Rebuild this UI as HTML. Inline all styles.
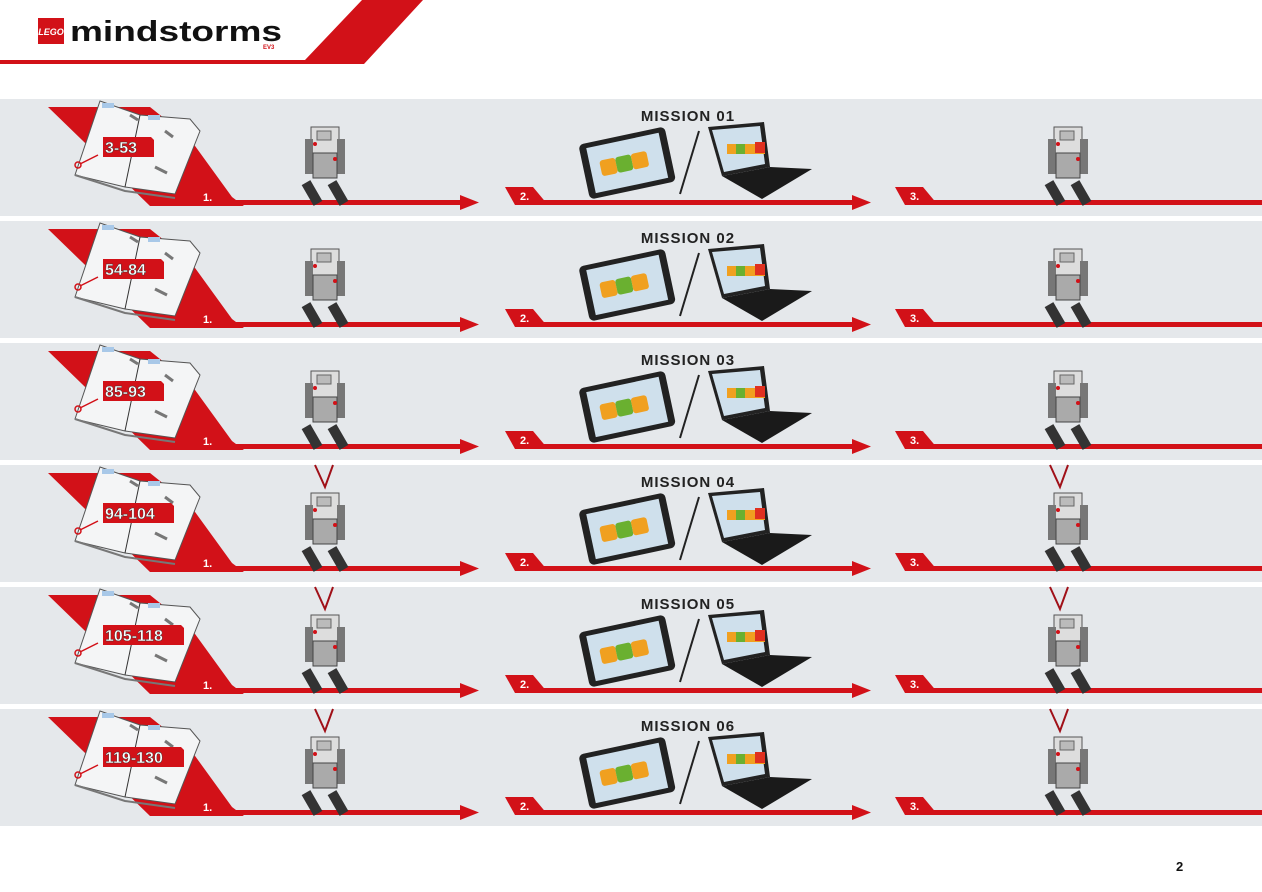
<!DOCTYPE html>
<html><head><meta charset="utf-8"><style>
html,body{margin:0;padding:0;background:#fff;width:1262px;height:892px;overflow:hidden}
svg{display:block}
text{font-family:"Liberation Sans",sans-serif}
</style></head><body>
<svg id="s" width="1262" height="892" viewBox="0 0 1262 892" xmlns="http://www.w3.org/2000/svg">
<polygon points="0,60 305,60 362,0 423,0 364,64 0,64" fill="#d21118"/>
<rect x="38" y="18" width="26" height="26" fill="#d21118"/>
<text x="51" y="35" font-size="9" font-weight="bold" font-style="italic" fill="#fff" text-anchor="middle">LEGO</text>
<text x="70" y="41" font-size="29" font-weight="bold" fill="#111" textLength="212" lengthAdjust="spacingAndGlyphs">mindstorms</text>
<text x="263" y="49" font-size="6" font-weight="bold" fill="#d21118">EV3</text>
<text x="1176" y="871" font-size="13" font-weight="bold" fill="#111">2</text>
</svg>
<script>
const s=document.getElementById('s');let h='';
const pages=['3-53','54-84','85-93','94-104','105-118','119-130'];
for(let i=0;i<6;i++){const y=99+i*122;
h+=`<rect x="0" y="${y}" width="1262" height="117" fill="#e5e8eb"/>`;
h+=`<polygon points="48,${y+8} 150,${y+8} 190,${y+40} 232,${y+98} 244,${y+107} 150,${y+107}" fill="#d21118"/>`;
h+=`<rect x="150" y="${y+101}" width="312" height="5" fill="#d21118"/><polygon points="460,${y+96} 479,${y+103.5} 460,${y+111}" fill="#d21118"/>`;
h+=`<polygon points="505,${y+88} 533,${y+88} 548,${y+106} 515,${y+106}" fill="#d21118"/><rect x="540" y="${y+101}" width="312" height="5" fill="#d21118"/><polygon points="852,${y+96} 871,${y+103.5} 852,${y+111}" fill="#d21118"/>`;
h+=`<polygon points="895,${y+88} 923,${y+88} 938,${y+106} 905,${y+106}" fill="#d21118"/><rect x="930" y="${y+101}" width="332" height="5" fill="#d21118"/>`;
h+=`<text x="203" y="${y+102}" font-size="11" font-weight="bold" fill="#fff">1.</text><text x="520" y="${y+101}" font-size="11" font-weight="bold" fill="#fff">2.</text><text x="910" y="${y+101}" font-size="11" font-weight="bold" fill="#fff">3.</text>`;
// book
h+=`<polygon points="100,${y+2} 140,${y+16} 190,${y+20} 200,${y+32} 175,${y+95} 125,${y+88} 75,${y+76}" fill="#f4f5f6" stroke="#555" stroke-width="1"/><line x1="140" y1="${y+16}" x2="125" y2="${y+88}" stroke="#333"/>`;
h+=`<path d="M75,${y+76} L125,${y+92} L175,${y+99}" fill="none" stroke="#777" stroke-width="2"/>`;
h+=`<rect x="102" y="${y+4}" width="12" height="5" fill="#a8c8e8"/><rect x="148" y="${y+16}" width="12" height="5" fill="#a8c8e8"/>`;
h+=`<g fill="none" stroke="#777" stroke-width="3"><path d="M130,${y+16} l8,5"/><path d="M165,${y+32} l8,6"/><path d="M155,${y+68} l12,6"/></g>`;
const pw=pages[i].length*10+8;
h+=`<polygon points="103,${y+38} ${103+pw},${y+38} ${103+pw+3},${y+41} ${103+pw+3},${y+58} 103,${y+58}" fill="#d21118"/><text x="105" y="${y+54}" font-size="16" font-weight="bold" fill="#fff" stroke="#333" stroke-width="0.4">${pages[i]}</text>`;
h+=`<circle cx="78" cy="${y+66}" r="3" fill="none" stroke="#d21118" stroke-width="1.5"/><line x1="80" y1="${y+65}" x2="98" y2="${y+56}" stroke="#d21118" stroke-width="1.5"/>`;
// robot 1
const rb=(cx,ry)=>`<g><rect x="${cx-14}" y="${ry+28}" width="28" height="26" fill="#ddd" stroke="#555"/><rect x="${cx-8}" y="${ry+32}" width="14" height="9" fill="#bbb" stroke="#666"/><rect x="${cx-20}" y="${ry+40}" width="8" height="35" fill="#777"/><rect x="${cx+12}" y="${ry+40}" width="8" height="35" fill="#777"/><rect x="${cx-12}" y="${ry+54}" width="24" height="25" fill="#aaa" stroke="#444"/><rect x="${cx-18}" y="${ry+82}" width="10" height="24" fill="#333" transform="rotate(-30 ${cx-13} ${ry+94})"/><rect x="${cx+8}" y="${ry+82}" width="10" height="24" fill="#333" transform="rotate(-30 ${cx+13} ${ry+94})"/><circle cx="${cx-10}" cy="${ry+45}" r="2" fill="#d21118"/><circle cx="${cx+10}" cy="${ry+60}" r="2" fill="#d21118"/></g>`;
h+=rb(325,y);h+=rb(1068,y);
if(i>=3){h+=`<path d="M315,${y} l10,22 l8,-22 M1050,${y} l10,22 l8,-22" stroke="#a01018" stroke-width="2" fill="none"/>`;}
// mission
h+=`<text x="688" y="${y+22}" font-size="15" font-weight="bold" fill="#222" text-anchor="middle" letter-spacing="1">MISSION 0${i+1}</text>`;
h+=`<g transform="rotate(-12 627 ${y+63})"><rect x="583" y="${y+36}" width="88" height="56" rx="5" fill="#222"/><rect x="590" y="${y+41}" width="74" height="46" fill="#cfe0ec"/><rect x="600" y="${y+56}" width="16" height="16" rx="3" fill="#f0a020"/><rect x="616" y="${y+56}" width="16" height="16" rx="3" fill="#6ab030"/><rect x="632" y="${y+56}" width="16" height="16" rx="3" fill="#f0a020"/></g>`;
h+=`<line x1="699" y1="${y+32}" x2="680" y2="${y+95}" stroke="#222" stroke-width="2"/>`;
h+=`<polygon points="708,${y+28} 764,${y+23} 770,${y+68} 722,${y+77}" fill="#222"/><polygon points="712,${y+31} 760,${y+27} 765,${y+65} 724,${y+73}" fill="#cfe0ec"/><rect x="727" y="${y+45}" width="38" height="10" fill="#f0a020"/><rect x="736" y="${y+45}" width="9" height="10" fill="#6ab030"/><rect x="755" y="${y+43}" width="10" height="11" fill="#e03020"/>`;
h+=`<polygon points="722,${y+77} 770,${y+68} 812,${y+70} 762,${y+100}" fill="#1a1a1a"/>`;
}
s.insertAdjacentHTML('beforeend',h);
</script>
</body></html>
